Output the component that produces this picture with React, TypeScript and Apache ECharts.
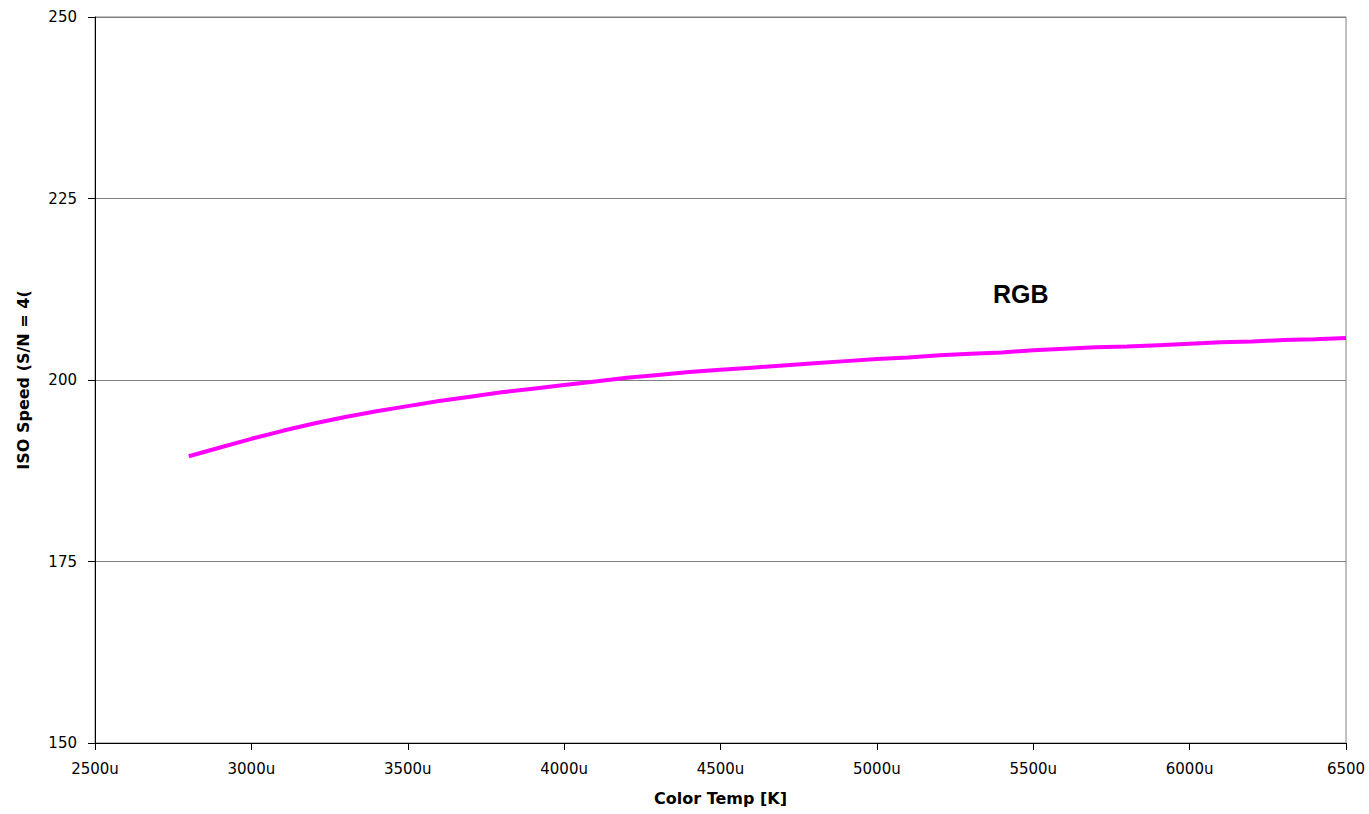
import React, { useEffect, useRef } from "react";
import * as echarts from "echarts";

const colorTemps = [
  2800, 2900, 3000, 3100, 3200, 3300, 3400, 3500, 3600, 3700, 3800, 3900, 4000,
  4100, 4200, 4300, 4400, 4500, 4600, 4700, 4800, 4900, 5000, 5100, 5200, 5300,
  5400, 5500, 5600, 5700, 5800, 5900, 6000, 6100, 6200, 6300, 6400, 6500,
];
const rgbIso = [
  189.5, 190.7, 191.9, 193.0, 194.0, 194.9, 195.7, 196.4, 197.1, 197.7, 198.3,
  198.8, 199.3, 199.8, 200.3, 200.7, 201.1, 201.4, 201.7, 202.0, 202.3, 202.6,
  202.9, 203.1, 203.4, 203.6, 203.8, 204.1, 204.3, 204.5, 204.6, 204.8, 205.0,
  205.2, 205.3, 205.5, 205.6, 205.8,
];
const seriesName = "RGB";
const xTitle = "Color Temp [K]";
const yTitle = "ISO Speed (S/N = 4(";

export default function App() {
  const ref = useRef<HTMLDivElement>(null);
  useEffect(() => {
    if (!ref.current) return;
    const chart = echarts.init(ref.current, null, { renderer: "svg" });
    const font = "Liberation Sans, Arial, sans-serif";
    chart.setOption({
      animation: false,
      backgroundColor: "#ffffff",
      grid: {
        left: 95,
        right: 23,
        top: 17,
        bottom: 71,
        show: true,
        borderColor: "#808080",
        borderWidth: 1,
      },
      xAxis: {
        type: "value",
        min: 2500,
        max: 6500,
        interval: 500,
        name: xTitle,
        nameLocation: "middle",
        nameGap: 47,
        nameTextStyle: {
          fontFamily: "DejaVu Sans, sans-serif",
          fontWeight: "bold",
          fontSize: 16,
          color: "#000",
        },
        axisLine: { show: true, lineStyle: { color: "#000", width: 1 } },
        axisTick: { show: true, inside: false, length: 7, lineStyle: { color: "#000" } },
        axisLabel: {
          margin: 18,
          fontFamily: "DejaVu Sans, sans-serif",
          fontSize: 15,
          color: "#000",
          formatter: (v: number) => (v === 6500 ? String(v) : v + "u"),
        },
        splitLine: { show: false },
      },
      yAxis: {
        type: "value",
        min: 150,
        max: 250,
        interval: 25,
        name: yTitle,
        nameLocation: "middle",
        nameGap: 64,
        nameTextStyle: {
          fontFamily: "DejaVu Sans, sans-serif",
          fontWeight: "bold",
          fontSize: 16,
          color: "#000",
        },
        axisLine: { show: true, lineStyle: { color: "#000", width: 1 } },
        axisTick: { show: true, inside: false, length: 7, lineStyle: { color: "#000" } },
        axisLabel: {
          margin: 18,
          fontFamily: "DejaVu Sans, sans-serif",
          fontSize: 15,
          color: "#000",
        },
        splitLine: { show: true, lineStyle: { color: "#808080", width: 1 } },
      },
      series: [
        {
          name: seriesName,
          type: "line",
          data: colorTemps.map((t, i) => [t, rgbIso[i]]),
          showSymbol: false,
          lineStyle: { color: "#ff00ff", width: 4 },
          itemStyle: { color: "#ff00ff" },
        },
      ],
      graphic: [
        {
          type: "text",
          left: 993,
          top: 281,
          style: {
            text: seriesName,
            fontFamily: font,
            fontWeight: "bold",
            fontSize: 25,
            fill: "#000",
          },
        },
      ],
    });
    return () => chart.dispose();
  }, []);
  return (
    <div
      ref={ref}
      style={{ position: "fixed", left: 0, top: 0, width: 1369, height: 814 }}
    />
  );
}
